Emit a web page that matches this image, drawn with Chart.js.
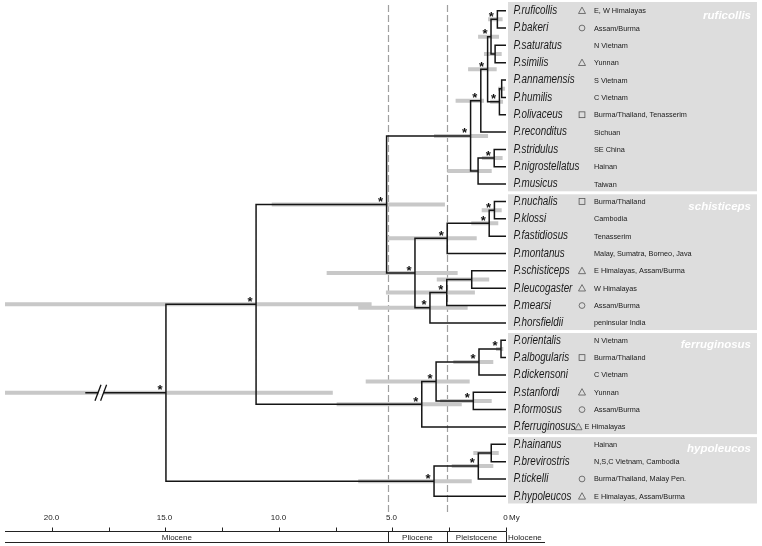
<!DOCTYPE html>
<html><head><meta charset="utf-8">
<script src="https://cdn.jsdelivr.net/npm/chart.js@4.4.0/dist/chart.umd.min.js"></script>
<style>html,body{margin:0;padding:0;background:#fff;}canvas{display:block;}</style>
</head><body>
<canvas id="c" width="762" height="546"></canvas>
<script>
// ---- Tips (top to bottom) ----
const tipNames = ['P.ruficollis','P.bakeri','P.saturatus','P.similis','P.annamensis','P.humilis','P.olivaceus','P.reconditus','P.stridulus','P.nigrostellatus','P.musicus',
  'P.nuchalis','P.klossi','P.fastidiosus','P.montanus','P.schisticeps','P.leucogaster','P.mearsi','P.horsfieldii',
  'P.orientalis','P.albogularis','P.dickensoni','P.stanfordi','P.formosus','P.ferruginosus',
  'P.hainanus','P.brevirostris','P.tickelli','P.hypoleucos'];
const tipRegions = ['E, W Himalayas','Assam/Burma','N Vietnam','Yunnan','S Vietnam','C Vietnam','Burma/Thailand, Tenasserim','Sichuan','SE China','Hainan','Taiwan',
  'Burma/Thailand','Cambodia','Tenasserim','Malay, Sumatra, Borneo, Java','E Himalayas, Assam/Burma','W Himalayas','Assam/Burma','peninsular India',
  'N Vietnam','Burma/Thailand','C Vietnam','Yunnan','Assam/Burma','E Himalayas',
  'Hainan','N,S,C Vietnam, Cambodia','Burma/Thailand, Malay Pen.','E Himalayas, Assam/Burma'];
const tipSymbols = ['tri','circ','','tri','','','sq','','','','',
  'sq','','','','tri','tri','circ','',
  '','sq','','tri','circ','tri',
  '','','circ','tri'];
// ---- Groups ----
const groupNames = ['ruficollis','schisticeps','ferruginosus','hypoleucos'];
const groupFirst = [0,11,19,25];
const groupLast  = [10,18,24,28];
// ---- Internal nodes (ages in My before present) ----
const nodeIds  = ['rb','ss','rbss','ah','aho','A','B','sn','snm','R','nk','nkf','nkfm','sl','slm','slmh','S','RS','oa','ood','sf','U','F','hb','hbt','H','N11','root'];
const nodeKids = [[0,1],[2,3],['rb','ss'],[4,5],['ah',6],['rbss','aho'],['A',7],[8,9],['sn',10],['B','snm'],
  [11,12],['nk',13],['nkf',14],[15,16],['sl',17],['slm',18],['nkfm','slmh'],['R','S'],
  [19,20],['oa',21],[22,23],['ood','sf'],['U',24],[25,26],['hb',27],['hbt',28],['RS','F'],['N11','H']];
const nodeAge  = [0.38,0.48,0.66,0.19,0.29,0.81,1.11,0.52,1.23,1.56,0.51,0.74,2.59,1.51,2.61,3.35,4.01,5.26,0.22,1.19,1.44,3.08,3.71,0.65,1.22,3.17,11.01,14.98];
const hpdLow   = [0.15,0.19,0.31,0.04,0.13,0.41,0.97,0.15,0.63,0.79,0.19,0.34,1.29,0.74,1.37,1.69,2.13,2.69,0.12,0.56,0.63,1.60,1.95,0.32,0.56,1.51,5.92,7.63];
const hpdHigh  = [0.79,0.97,1.23,0.35,0.70,1.67,2.22,1.06,2.58,3.17,1.07,1.53,5.22,3.05,5.29,6.51,7.90,10.32,0.44,2.32,2.90,6.18,7.46,1.44,2.39,6.51,22.17,22.15];
const nodeStar = [1,0,1,0,1,1,1,1,0,1,1,1,1,0,1,1,1,1,1,1,1,1,1,0,1,1,1,1];
const rootStemAge = 18.5;
const stemBreakAge = 17.85;
// ---- Time axis ----
const tickValues = [20,17.5,15,12.5,10,7.5,5,2.5,0];
const tickLabels = ['20.0','','15.0','','10.0','','5.0','','0'];
const epochNames = ['Miocene','Pliocene','Pleistocene','Holocene'];
const epochOld   = [23.8,5.2,2.6,0];
const epochYoung = [5.2,2.6,0,null];
const dashedAges = [5.2,2.6];

// ---- build geometry from data ----
const idx = {}; nodeIds.forEach((n,i)=>idx[n]=i);
function yOf(k){ return typeof k==='number' ? k : (yOf(nodeKids[idx[k]][0]) + yOf(nodeKids[idx[k]][1]))/2; }
function ageOf(k){ return typeof k==='number' ? 0 : nodeAge[idx[k]]; }
const branchPts = [], hpdPts = [];
nodeIds.forEach((n,i)=>{
  const ny = yOf(n), na = nodeAge[i];
  nodeKids[i].forEach(k=>{
    const ky = yOf(k);
    branchPts.push({x:na,y:ny},{x:na,y:ky},{x:ageOf(k),y:ky},{x:null,y:null});
  });
  hpdPts.push({x:hpdHigh[i],y:ny},{x:hpdLow[i],y:ny},{x:null,y:null});
});
const rootY = yOf('root');
branchPts.push({x:rootStemAge,y:rootY},{x:nodeAge[idx['root']],y:rootY});

const FONT = '"Liberation Sans", Arial, sans-serif';
const treePlugin = {
  id:'tree',
  beforeDatasetsDraw(chart){
    const c = chart.ctx, xs = chart.scales.x, ys = chart.scales.y;
    c.save();
    c.fillStyle = '#dddddd';
    groupNames.forEach((g,i)=>{
      const top = ys.getPixelForValue(groupFirst[i]-0.5) + (i===0?0:1.5);
      const bot = ys.getPixelForValue(groupLast[i]+0.5) - 1.5;
      c.fillRect(508, top, 249, bot-top);
    });
    c.strokeStyle = '#a0a0a0'; c.lineWidth = 1.2; c.setLineDash([7,3]);
    dashedAges.forEach(a=>{
      const x = Math.round(xs.getPixelForValue(a))+0.5;
      c.beginPath(); c.moveTo(x,5); c.lineTo(x,512); c.stroke();
    });
    c.restore();
  },
  afterDatasetsDraw(chart){
    const c = chart.ctx, xs = chart.scales.x, ys = chart.scales.y;
    c.save();
    // stem break marks
    const bx = xs.getPixelForValue(stemBreakAge), by = ys.getPixelForValue(rootY);
    c.fillStyle='#fff'; c.fillRect(bx-2.5, by-2, 5, 4);
    c.strokeStyle='#111'; c.lineWidth=1.3;
    [-2.8,2.8].forEach(d=>{ c.beginPath(); c.moveTo(bx+d-3,by+8); c.lineTo(bx+d+3,by-8); c.stroke(); });
    // support asterisks
    c.fillStyle='#111'; c.font='bold 13px '+FONT; c.textAlign='center'; c.textBaseline='alphabetic';
    nodeIds.forEach((n,i)=>{
      if(!nodeStar[i]) return;
      c.fillText('*', xs.getPixelForValue(nodeAge[i])-6, ys.getPixelForValue(yOf(n))+1.5);
    });
    // group titles
    c.fillStyle='#fff'; c.font='bold italic 11.5px '+FONT; c.textAlign='right'; c.textBaseline='middle';
    groupNames.forEach((g,i)=>{ c.fillText(g, 751, ys.getPixelForValue(groupFirst[i])+5); });
    // tip labels
    tipNames.forEach((t,i)=>{
      const y = ys.getPixelForValue(i);
      const special = t==='P.ferruginosus';
      c.fillStyle='#1a1a1a'; c.textAlign='left'; c.textBaseline='middle';
      c.font='italic 12px '+FONT;
      c.save(); c.translate(513.5, y); c.scale(0.82, 1); c.fillText(t, 0, 0); c.restore();
      c.font='7.3px '+FONT; c.fillText(tipRegions[i], special?584.5:594, y+0.5);
      const sx = special?578.5:582, s = tipSymbols[i];
      c.strokeStyle='#555'; c.lineWidth=0.8;
      if(s==='tri'){ c.beginPath(); c.moveTo(sx,y-3.6); c.lineTo(sx+3.5,y+2.8); c.lineTo(sx-3.5,y+2.8); c.closePath(); c.stroke(); }
      else if(s==='circ'){ c.beginPath(); c.arc(sx,y,2.9,0,Math.PI*2); c.stroke(); }
      else if(s==='sq'){ c.strokeRect(sx-2.9,y-2.9,5.8,5.8); }
    });
    // time axis
    const axY = 531.5, botY = 542.5;
    const x0 = xs.getPixelForValue(xs.max), xEnd = xs.getPixelForValue(0);
    c.strokeStyle='#222'; c.lineWidth=1;
    c.beginPath(); c.moveTo(x0,axY); c.lineTo(xEnd,axY); c.stroke();
    c.beginPath(); c.moveTo(x0,botY); c.lineTo(545,botY); c.stroke();
    c.fillStyle='#222'; c.font='8px '+FONT; c.textAlign='center'; c.textBaseline='middle';
    tickValues.forEach((v,i)=>{
      const x = Math.round(xs.getPixelForValue(v))+0.5;
      c.beginPath(); c.moveTo(x,axY-4); c.lineTo(x,axY); c.stroke();
      if(tickLabels[i]) c.fillText(tickLabels[i], x-1, 518);
    });
    c.textAlign='left'; c.fillText('My', 509, 518);
    epochNames.forEach((e,i)=>{
      if(epochYoung[i]!==null){
        const xb = Math.round(xs.getPixelForValue(epochYoung[i]))+0.5;
        c.beginPath(); c.moveTo(xb,axY); c.lineTo(xb,botY); c.stroke();
        c.textAlign='center';
        c.fillText(e, (xs.getPixelForValue(epochOld[i])+xs.getPixelForValue(epochYoung[i]))/2, 537.5);
      } else {
        c.textAlign='left'; c.fillText(e, xs.getPixelForValue(epochOld[i])+2, 537.5);
      }
    });
    c.restore();
  }
};

new Chart(document.getElementById('c'), {
  type:'scatter',
  data:{datasets:[
    {data:branchPts, showLine:true, spanGaps:false, borderColor:'#151515', borderWidth:1.5, pointRadius:0, borderJoinStyle:'miter', borderCapStyle:'square', order:0},
    {data:hpdPts, showLine:true, spanGaps:false, borderColor:'#c8c8c8', borderWidth:4, pointRadius:0, borderCapStyle:'butt', order:1}
  ]},
  options:{
    responsive:false, animation:false, events:[],
    layout:{padding:{left:5,right:256,top:2,bottom:41}},
    scales:{
      x:{type:'linear', reverse:true, min:0, max:22.07, display:false},
      y:{type:'linear', reverse:true, min:-0.5, max:28.5, display:false}
    },
    plugins:{legend:{display:false}, tooltip:{enabled:false}}
  },
  plugins:[treePlugin]
});
</script>
</body></html>
